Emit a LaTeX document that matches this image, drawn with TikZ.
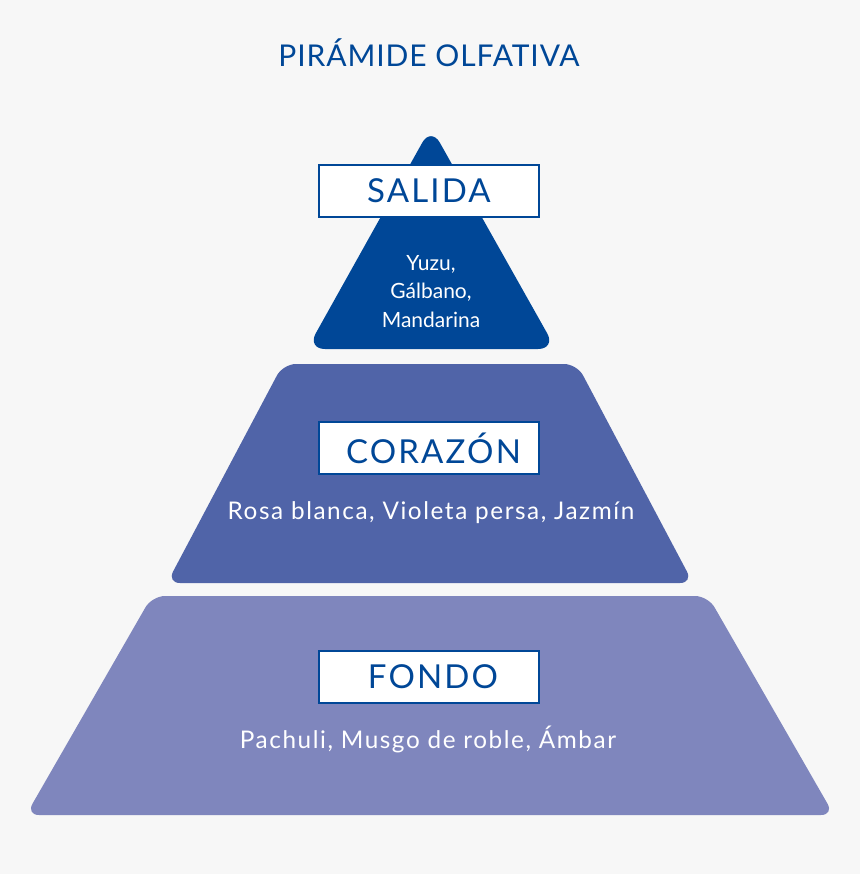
\documentclass[tikz,border=0pt]{standalone}
\usepackage{fontspec}
\setmainfont{Lato}
\newfontfamily\spacedlato[LetterSpace=6.5]{Lato}
\newfontfamily\titlelato[LetterSpace=3]{Lato}
\usetikzlibrary{positioning}

\definecolor{pagebg}{RGB}{247,247,247}
\definecolor{topblue}{RGB}{0,71,151}
\definecolor{midblue}{RGB}{80,100,168}
\definecolor{lowblue}{RGB}{127,134,189}

\begin{document}
\begin{tikzpicture}[
  x=1pt, y=-1pt,
  tier/.style={rounded corners=13pt},
  tierbox/.style={
    rectangle, draw=topblue, fill=white, line width=1.8pt,
    minimum width=220pt, minimum height=52pt, inner sep=0pt,
    text=topblue, font=\spacedlato\fontsize{33}{40}\selectfont
  },
  notes/.style={text=white, align=center, font=\spacedlato\fontsize{24.3}{29}\selectfont},
  smallnotes/.style={text=white, align=center, inner sep=0pt,
    font=\fontsize{21}{28.5}\selectfont},
  heading/.style={text=topblue, font=\titlelato\fontsize{30}{36}\selectfont},
]

% page background
\fill[pagebg] (0,0) rectangle (860,874);
\useasboundingbox (0,0) rectangle (860,874);

% title
\node[heading, anchor=base] (title) at (429,67) {PIRÁMIDE OLFATIVA};

% base tier: Fondo
\fill[lowblue, tier] (26,815) -- (152,596) -- (708,596) -- (834,815) -- cycle;
\node[tierbox] (fondo) at (429,677) {\hspace{8pt}FONDO};
\node[notes, anchor=base] (fondo_notes) at (428,748) {Pachuli, Musgo de roble, Ámbar};

% middle tier: Corazón
\fill[midblue, tier] (167,583) -- (283,364) -- (577,364) -- (693,583) -- cycle;
\node[tierbox] (corazon) at (429,448) {\hspace{9pt}CORAZÓN};
\node[notes, anchor=base] (corazon_notes) at (431,519) {Rosa blanca, Violeta persa, Jazmín};

% top tier: Salida
\fill[topblue, rounded corners=18pt] (307,349) -- (431,127) -- (556,349) -- cycle;
\node[tierbox] (salida) at (429,191) {SALIDA};
\node[smallnotes, anchor=north] (salida_notes) at (431,255) {Yuzu,\\Gálbano,\\Mandarina};

\end{tikzpicture}
\end{document}
